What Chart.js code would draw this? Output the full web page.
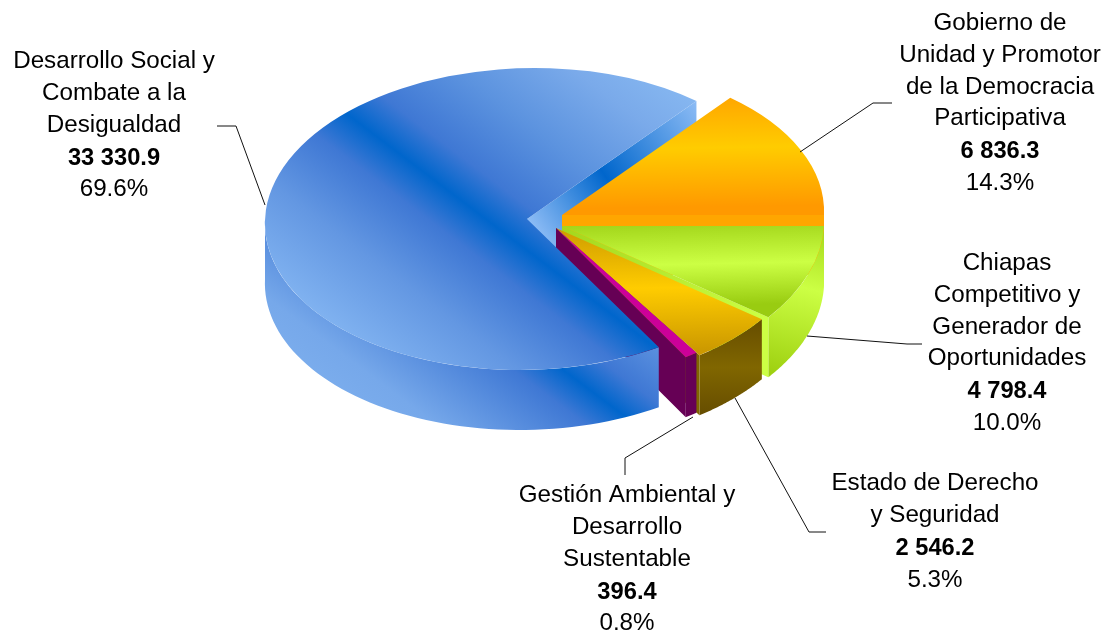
<!DOCTYPE html>
<html>
<head>
<meta charset="utf-8">
<style>
  html, body { margin: 0; background: #fff; }
  canvas { display: block; }
</style>
<script src="https://cdn.jsdelivr.net/npm/chart.js@4"></script>
</head>
<body>
<canvas id="chart" width="1104" height="633"></canvas>
<script>
const categories = [
  ["Gobierno de", "Unidad y Promotor", "de la Democracia", "Participativa"],
  ["Chiapas", "Competitivo y", "Generador de", "Oportunidades"],
  ["Estado de Derecho", "y Seguridad"],
  ["Gestión Ambiental y", "Desarrollo", "Sustentable"],
  ["Desarrollo Social y", "Combate a la", "Desigualdad"],
];
const values = [6836.3, 4798.4, 2546.2, 396.4, 33330.9];
const valueLabels = ["6 836.3", "4 798.4", "2 546.2", "396.4", "33 330.9"];
const percentLabels = ["14.3%", "10.0%", "5.3%", "0.8%", "69.6%"];

// where each exploded slice sits on the page
const SLICES = [
  { x: 562, y: 215, rx: 262, ry: 150, k: -0.04 },
  { x: 562, y: 226, rx: 262, ry: 155, k: -0.06 },
  { x: 556, y: 228, rx: 258, ry: 155, k: -0.03 },
  { x: 556, y: 228, rx: 246, ry: 152, k: 0 },
  { x: 527, y: 219, rx: 262, ry: 151, k: -0.05 },
];
const DEPTH = 60;

const LABELS = [
  { x: 1000, y: 23.5 },
  { x: 1007, y: 263.5 },
  { x: 935, y: 483.5 },
  { x: 627, y: 495.5 },
  { x: 114, y: 61.5 },
];
const LEADERS = [
  [[800, 152], [873, 103], [892, 103]],
  [[807, 336], [907, 344], [922, 344]],
  [[735, 398], [809, 532], [826, 532]],
  [[693, 417], [625, 458], [625, 475]],
  [[217, 126], [236, 126], [265, 205]],
];

const canvas = document.getElementById("chart");
const ctx = canvas.getContext("2d");

function grad(x0, y0, x1, y1, stops) {
  const g = ctx.createLinearGradient(x0, y0, x1, y1);
  stops.forEach(([p, c]) => g.addColorStop(p, c));
  return g;
}

// screen gradient -> coordinates the arc is filled in (see applySlice)
const CX = 552, CY = 316.5, R = 264;
function toPie(i, sx, sy) {
  const s = SLICES[i];
  const py = (sy - s.y) / (s.ry / R);
  const px = (sx - s.x - s.k * (sy - s.y)) / (s.rx / R);
  return [CX + px, CY + py];
}
function pieGrad(i, x0, y0, x1, y1, stops) {
  const a = toPie(i, x0, y0), b = toPie(i, x1, y1);
  return grad(a[0], a[1], b[0], b[1], stops);
}

const blueStops = [
  [0, "#85b6f0"], [0.11, "#7aaaea"], [0.27, "#5c93df"], [0.42, "#3f78d4"],
  [0.5, "#0066cc"], [0.58, "#3f78d4"], [0.73, "#6397e2"], [1, "#90c1f8"],
];
const topColors = [
  pieGrad(0, 0, 98, 0, 216, [[0, "#ffa000"], [0.5, "#ffcc00"], [1, "#ff9900"]]),
  pieGrad(1, 0, 228, 0, 320, [[0, "#99cc11"], [0.55, "#ccff44"], [1, "#99cc11"]]),
  pieGrad(2, 0, 232, 0, 358, [[0, "#cc9900"], [0.5, "#ffcc00"], [1, "#cc9900"]]),
  "#cc0099",
  pieGrad(4, 724, 124, 266, 328, blueStops),
];

function applySlice(c, i) {
  const s = SLICES[i];
  c.transform(s.rx / R, 0, s.k * s.ry / R, s.ry / R, s.x - (s.rx / R) * CX - (s.k * s.ry / R) * CY, s.y - (s.ry / R) * CY);
}
function rimPoint(i, angle) {
  const s = SLICES[i];
  const ys = s.ry * Math.sin(angle);
  return [s.x + s.rx * Math.cos(angle) + s.k * ys, s.y + ys];
}

// outer wall between two angles of a slice
function wall(c, i, a0, a1, fill) {
  const steps = 60;
  c.beginPath();
  for (let n = 0; n <= steps; n++) {
    const p = rimPoint(i, a0 + (a1 - a0) * n / steps);
    n ? c.lineTo(p[0], p[1]) : c.moveTo(p[0], p[1]);
  }
  for (let n = steps; n >= 0; n--) {
    const p = rimPoint(i, a0 + (a1 - a0) * n / steps);
    c.lineTo(p[0], p[1] + DEPTH);
  }
  c.closePath();
  c.fillStyle = fill;
  c.fill();
}
// cut face from the apex to the rim at one angle
function face(c, i, angle, fill) {
  const s = SLICES[i];
  const p = rimPoint(i, angle);
  c.beginPath();
  c.moveTo(s.x, s.y);
  c.lineTo(p[0], p[1]);
  c.lineTo(p[0], p[1] + DEPTH);
  c.lineTo(s.x, s.y + DEPTH);
  c.closePath();
  c.fillStyle = fill;
  c.fill();
}

const pie3d = {
  id: "pie3d",
  beforeDatasetsDraw(chart) {
    const c = chart.ctx;
    const arcs = chart.getDatasetMeta(0).data;
    const [oArc, gArc, bArc, mArc, blArc] = arcs;
    const drawTop = (i) => {
      c.save();
      applySlice(c, i);
      arcs[i].draw(c);
      c.restore();
    };

    // notch of the big slice, back first
    const bp = rimPoint(4, blArc.endAngle);
    face(c, 4, blArc.endAngle, grad(527, 219, bp[0], bp[1], [[0, "#8dbcf5"], [0.43, "#0066cc"], [1, "#8dbcf5"]]));

    // orange cut face shows as a thin band over the green
    face(c, 0, oArc.endAngle, "#ffa600");
    drawTop(0);

    wall(c, 1, gArc.startAngle, gArc.endAngle, grad(824, 235, 790, 378, [[0, "#a8dc1e"], [0.38, "#ccff44"], [1, "#9ed010"]]));
    face(c, 1, gArc.endAngle, grad(562, 226, 766, 318, [[0, "#a4d61c"], [1, "#ccff44"]]));
    drawTop(1);

    wall(c, 2, bArc.startAngle, bArc.endAngle, grad(0, 320, 0, 415, [[0, "#664d00"], [0.5, "#806600"], [1, "#664d00"]]));
    face(c, 2, bArc.endAngle, "#806600");
    drawTop(2);

    wall(c, 3, mArc.startAngle, mArc.endAngle, "#660055");
    face(c, 3, mArc.endAngle, "#660055");
    drawTop(3);

    // big slice wall only on the front half
    wall(c, 4, blArc.startAngle, Math.PI, grad(410, 630, 770, 150, [
      [0, "#90c1f8"], [0.3, "#76a8ea"], [0.45, "#3f78d4"], [0.5, "#0066cc"], [0.55, "#3f78d4"], [0.667, "#6a9ee5"], [1, "#90c1f8"],
    ]));
    drawTop(4);
    return false;
  },
  afterDraw(chart) {
    const c = chart.ctx;
    c.save();
    c.strokeStyle = "#111";
    c.lineWidth = 1;
    LEADERS.forEach((pts) => {
      c.beginPath();
      pts.forEach((p, n) => n ? c.lineTo(p[0], p[1]) : c.moveTo(p[0], p[1]));
      c.stroke();
    });
    c.fillStyle = "#000";
    c.textAlign = "center";
    c.textBaseline = "middle";
    categories.forEach((lines, i) => {
      let y = LABELS[i].y;
      c.font = "24.2px 'Liberation Sans'";
      lines.forEach((t) => {
        c.fillText(t, LABELS[i].x, y);
        y += 31.7;
      });
      c.font = "bold 23.7px 'Liberation Sans'";
      y += 1.5;
      c.fillText(valueLabels[i], LABELS[i].x, y);
      y += 31.5;
      c.font = "24.2px 'Liberation Sans'";
      c.fillText(percentLabels[i], LABELS[i].x, y);
    });
    c.restore();
  },
};

new Chart(canvas, {
  type: "pie",
  data: {
    labels: categories.map((l) => l.join(" ")),
    datasets: [{ data: values, backgroundColor: topColors, borderWidth: 0, radius: R }],
  },
  options: {
    responsive: false,
    animation: false,
    events: [],
    rotation: 38.63,
    plugins: { legend: { display: false }, tooltip: { enabled: false } },
  },
  plugins: [pie3d],
});
</script>
</body>
</html>
